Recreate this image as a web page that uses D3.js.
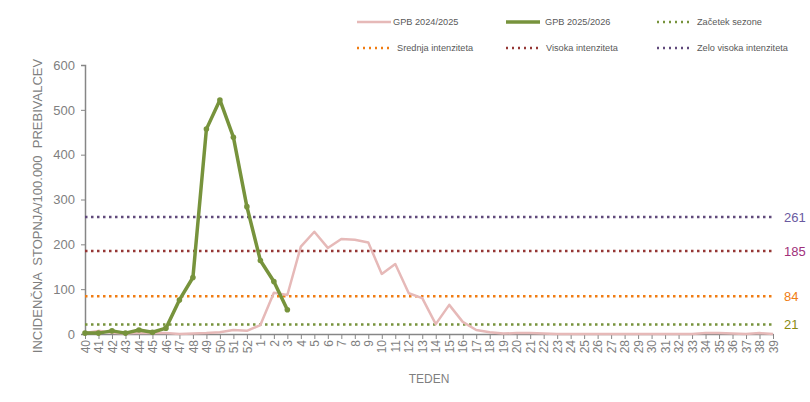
<!DOCTYPE html>
<html>
<head>
<meta charset="utf-8">
<script src="https://cdn.jsdelivr.net/npm/d3@7"></script>
<style>
  body { margin: 0; background: #fff; }
  svg { font-family: "Liberation Sans", Arial, sans-serif; }
</style>
</head>
<body>
<div id="chart"></div>
<script>
const WIDTH = 810
const HEIGHT = 402

// weeks of the season, 40..52 then 1..39
const weeks = [40, 41, 42, 43, 44, 45, 46, 47, 48, 49, 50, 51, 52,
  1, 2, 3, 4, 5, 6, 7, 8, 9, 10, 11, 12, 13, 14, 15, 16, 17, 18, 19, 20,
  21, 22, 23, 24, 25, 26, 27, 28, 29, 30, 31, 32, 33, 34, 35, 36, 37, 38, 39];

const gpb2425 = [2, 7, 3, 1, 3, 2, 2, 0, 1, 2, 4, 9, 7,
  20, 92, 87, 195, 228, 192, 212, 210, 204, 134, 156, 91, 80, 22, 65, 27, 9, 4, 1, 2,
  2, 1, 0, 0, 0, 0, 0, 0, 0, 0, 0, 0, 0, 2, 2, 1, 0, 2, 0];

const gpb2526 = [2, 2, 7, 2, 9, 4, 13, 76, 126, 457, 522, 439, 284, 164, 117, 54];

const thresholds = [
  { name: "Začetek sezone", value: 21, color: "#77933c", label: "#8a8a12" },
  { name: "Srednja intenziteta", value: 84, color: "#f07c12", label: "#f07c12" },
  { name: "Visoka intenziteta", value: 185, color: "#953735", label: "#a0307a" },
  { name: "Zelo visoka intenziteta", value: 261, color: "#604a7b", label: "#6a5aa0" }
];

const yTicks = [0, 100, 200, 300, 400, 500, 600];

const TEXT = "#7f7f7f";
const AXIS = "#868686";

var svg = d3.select("#chart").append("svg")
    .attr("width", WIDTH)
    .attr("height", HEIGHT);

var xScale = d3.scalePoint()
    .domain(weeks.map((w, i) => i))
    .range([85, 773]);

var yScale = d3.scaleLinear()
    .domain([0, 600])
    .range([334, 65]);

// y axis
var yAxis = svg.append("g")
    .attr("transform", "translate(85,0)")
    .call(d3.axisLeft(yScale).tickValues(yTicks).tickSize(4).tickPadding(6));
yAxis.select(".domain").attr("stroke", AXIS).attr("stroke-width", 1.5);
yAxis.selectAll(".tick line").attr("stroke", AXIS);
yAxis.selectAll(".tick text")
    .attr("fill", TEXT)
    .attr("font-size", "13px")
    .attr("font-family", "Liberation Sans, Arial, sans-serif");

// x axis
var xAxis = svg.append("g")
    .attr("transform", "translate(0,334)")
    .call(d3.axisBottom(xScale).tickSize(5).tickSizeOuter(0).tickFormat(i => weeks[i]));
xAxis.select(".domain").attr("stroke", AXIS).attr("stroke-width", 1.5);
xAxis.selectAll(".tick line").attr("stroke", AXIS);
xAxis.selectAll(".tick text")
    .attr("fill", TEXT)
    .attr("font-size", "12px")
    .attr("font-family", "Liberation Sans, Arial, sans-serif")
    .attr("transform", "rotate(-90)")
    .attr("text-anchor", "end")
    .attr("dy", "0.35em")
    .attr("x", -6)
    .attr("y", 0);

// axis titles
svg.append("text")
    .attr("transform", "translate(42,206) rotate(-90)")
    .attr("text-anchor", "middle")
    .attr("font-size", "13px")
    .attr("fill", TEXT)
    .attr("xml:space", "preserve")
    .style("white-space", "pre")
    .text("INCIDENČNA  STOPNJA/100.000  PREBIVALCEV");

svg.append("text")
    .attr("x", 429)
    .attr("y", 383)
    .attr("text-anchor", "middle")
    .attr("font-size", "12px")
    .attr("fill", TEXT)
    .text("TEDEN");

// threshold lines
thresholds.forEach(t => {
    svg.append("line")
        .attr("x1", xScale(0))
        .attr("x2", xScale(weeks.length - 1))
        .attr("y1", yScale(t.value))
        .attr("y2", yScale(t.value))
        .attr("stroke", t.color)
        .attr("stroke-width", 2.5)
        .attr("stroke-dasharray", "2.5,3.5");
    svg.append("text")
        .attr("x", 784)
        .attr("y", yScale(t.value))
        .attr("dy", "0.35em")
        .attr("font-size", "13px")
        .attr("fill", t.label)
        .text(t.value);
});

var line = d3.line()
    .x((d, i) => xScale(i))
    .y(d => yScale(d));

// previous season
svg.append("path")
    .datum(gpb2425)
    .attr("fill", "none")
    .attr("stroke", "#e6b9b8")
    .attr("stroke-width", 2.5)
    .attr("stroke-linejoin", "round")
    .attr("d", line);

// current season
svg.append("path")
    .datum(gpb2526)
    .attr("fill", "none")
    .attr("stroke", "#77933c")
    .attr("stroke-width", 3.5)
    .attr("stroke-linejoin", "round")
    .attr("d", line);

svg.selectAll(".pt")
    .data(gpb2526)
    .enter()
    .append("circle")
    .attr("class", "pt")
    .attr("cx", (d, i) => xScale(i))
    .attr("cy", d => yScale(d))
    .attr("r", 2.8)
    .attr("fill", "#77933c");

// legend
const legendItems = [
    { name: "GPB 2024/2025", color: "#e6b9b8", width: 2.5, dash: null, x: 357, y: 22, tx: 36 },
    { name: "GPB 2025/2026", color: "#77933c", width: 3.5, dash: null, x: 506, y: 22, tx: 39 },
    { name: thresholds[0].name, color: thresholds[0].color, width: 2.5, dash: "2,4", x: 657, y: 22, tx: 40 },
    { name: thresholds[1].name, color: thresholds[1].color, width: 2.5, dash: "2,4", x: 357, y: 48, tx: 40 },
    { name: thresholds[2].name, color: thresholds[2].color, width: 2.5, dash: "2,4", x: 506, y: 48, tx: 40 },
    { name: thresholds[3].name, color: thresholds[3].color, width: 2.5, dash: "2,4", x: 657, y: 48, tx: 40 }
];

var legend = svg.append("g");
legendItems.forEach(l => {
    var g = legend.append("g").attr("transform", `translate(${l.x},${l.y})`);
    g.append("line")
        .attr("x1", 0).attr("x2", 34)
        .attr("y1", 0).attr("y2", 0)
        .attr("stroke", l.color)
        .attr("stroke-width", l.width)
        .attr("stroke-dasharray", l.dash);
    g.append("text")
        .attr("x", l.tx)
        .attr("y", 0)
        .attr("dy", "0.35em")
        .attr("font-size", "9.2px")
        .attr("fill", "#595959")
        .text(l.name);
});
</script>
</body>
</html>
